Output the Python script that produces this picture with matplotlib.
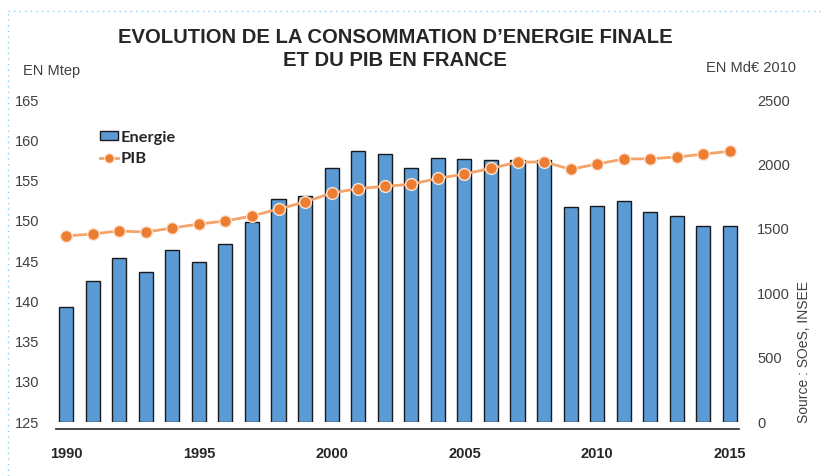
"""
Evolution de la consommation d'energie finale et du PIB en France (1990-2015).
Barres : energie (Mtep, axe gauche) ; courbe : PIB (Md€ 2010, axe droit).
"""
import matplotlib
matplotlib.use("Agg")
import matplotlib.pyplot as plt
import numpy as np
from matplotlib.lines import Line2D
from matplotlib.patches import Patch

plt.rcParams['font.family'] = ['Liberation Sans', 'DejaVu Sans']

# ---------------------------------------------------------------------------
# Donnees
# ---------------------------------------------------------------------------
years = list(range(1990, 2016))
energie = [139.3, 142.5, 145.4, 143.6, 146.4, 144.9, 147.1, 149.8, 152.7, 153.1,
           156.6, 158.7, 158.3, 156.6, 157.8, 157.7, 157.5, 157.5, 157.5, 151.7,
           151.8, 152.5, 151.1, 150.6, 149.3, 149.3]
pib = [1444, 1460, 1483, 1475, 1506, 1537, 1561, 1599, 1654, 1708,
       1778, 1812, 1830, 1846, 1892, 1925, 1970, 2017, 2020, 1962,
       2003, 2042, 2044, 2057, 2080, 2102]
left_ticks = [125, 130, 135, 140, 145, 150, 155, 160, 165]
right_ticks = [0, 500, 1000, 1500, 2000, 2500]
year_ticks = [1990, 1995, 2000, 2005, 2010, 2015]

BAR_COLOR = '#5B9BD5'
BAR_EDGE = '#1a1a1a'
LINE_COLOR = '#F4A46A'
MARK_COLOR = '#ED7D31'
TEXT_COLOR = '#404040'

fig = plt.figure(figsize=(8.22, 4.76), dpi=100)
ax = fig.add_axes([0.0681, 0.1134, 0.8309, 0.6765])

x = np.array(years)
ax.bar(x, np.array(energie) - 125, bottom=125, width=0.53,
       color=BAR_COLOR, edgecolor=BAR_EDGE, linewidth=1.0, zorder=2)
ax.set_xlim(1989.62, 2015.34)
ax.set_ylim(125, 165)
ax.set_yticks(left_ticks)
ax.set_xticks(year_ticks)
ax.tick_params(axis='y', length=0, pad=12, labelsize=10.5, labelcolor=TEXT_COLOR)
ax.tick_params(axis='x', length=0, pad=13, labelsize=10.5, labelcolor='#262626')
for s in ('top', 'right', 'left'):
    ax.spines[s].set_visible(False)
ax.spines['bottom'].set_position(('outward', 5))
ax.spines['bottom'].set_color('#262626')
ax.spines['bottom'].set_linewidth(1.2)

ax2 = ax.twinx()
ax2.plot(x, pib, color=LINE_COLOR, linewidth=2, zorder=3,
         marker='o', markersize=8.5, markerfacecolor=MARK_COLOR,
         markeredgecolor='#FBE3D3', markeredgewidth=1.0)
ax2.set_ylim(0, 2500)
ax2.set_yticks(right_ticks)
ax2.tick_params(axis='y', length=0, pad=13, labelsize=10.5, labelcolor=TEXT_COLOR)
for s in ('top', 'right', 'left', 'bottom'):
    ax2.spines[s].set_visible(False)

for lab in ax.get_xticklabels():
    lab.set_fontweight('bold')

# Legende
handles = [Patch(facecolor=BAR_COLOR, edgecolor=BAR_EDGE, linewidth=1.0),
           Line2D([], [], color=LINE_COLOR, linewidth=2, marker='o',
                  markersize=7, markerfacecolor=MARK_COLOR,
                  markeredgecolor='#FBE3D3')]
leg = ax.legend(handles, ['Energie', 'PIB'], loc='upper left',
                bbox_to_anchor=(0.055, 0.925), frameon=False,
                handlelength=1.1, handleheight=0.45, handletextpad=0.15,
                labelspacing=0.45, borderaxespad=0,
                prop={'family': ['Lato', 'DejaVu Sans'], 'weight': 'bold', 'size': 11.8})
for t in leg.get_texts():
    t.set_color('#262626')

# Titres et annotations
title_font = {'family': ['Liberation Sans Narrow', 'Liberation Sans', 'DejaVu Sans'],
              'weight': 'bold', 'size': 14.6, 'color': '#262626'}
fig.text(0.481, 1 - 38 / 476, 'EVOLUTION DE LA CONSOMMATION D’ENERGIE FINALE',
         ha='center', va='center', **title_font)
fig.text(0.481, 1 - 60 / 476, 'ET DU PIB EN FRANCE',
         ha='center', va='center', **title_font)
fig.text(23 / 822, 1 - 71 / 476, 'EN Mtep', ha='left', va='center',
         fontsize=10.5, color=TEXT_COLOR)
fig.text(796 / 822, 1 - 68 / 476, 'EN Md€ 2010', ha='right', va='center',
         fontsize=10.5, color=TEXT_COLOR)
fig.text(804 / 822, 1 - 423 / 476, 'Source : SOeS, INSEE', ha='center',
         va='bottom', rotation=90, fontsize=10, color=TEXT_COLOR)

# Cadre pointille (haut et gauche)
fig.add_artist(Line2D([8 / 822, 1], [1 - 11 / 476, 1 - 11 / 476],
                      transform=fig.transFigure, color='#7FD3F0',
                      linewidth=1, linestyle=(0, (1, 3))))
fig.add_artist(Line2D([8 / 822, 8 / 822], [0, 1 - 11 / 476],
                      transform=fig.transFigure, color='#7FD3F0',
                      linewidth=1, linestyle=(0, (1, 3))))

fig.savefig('out.png', dpi=100)
